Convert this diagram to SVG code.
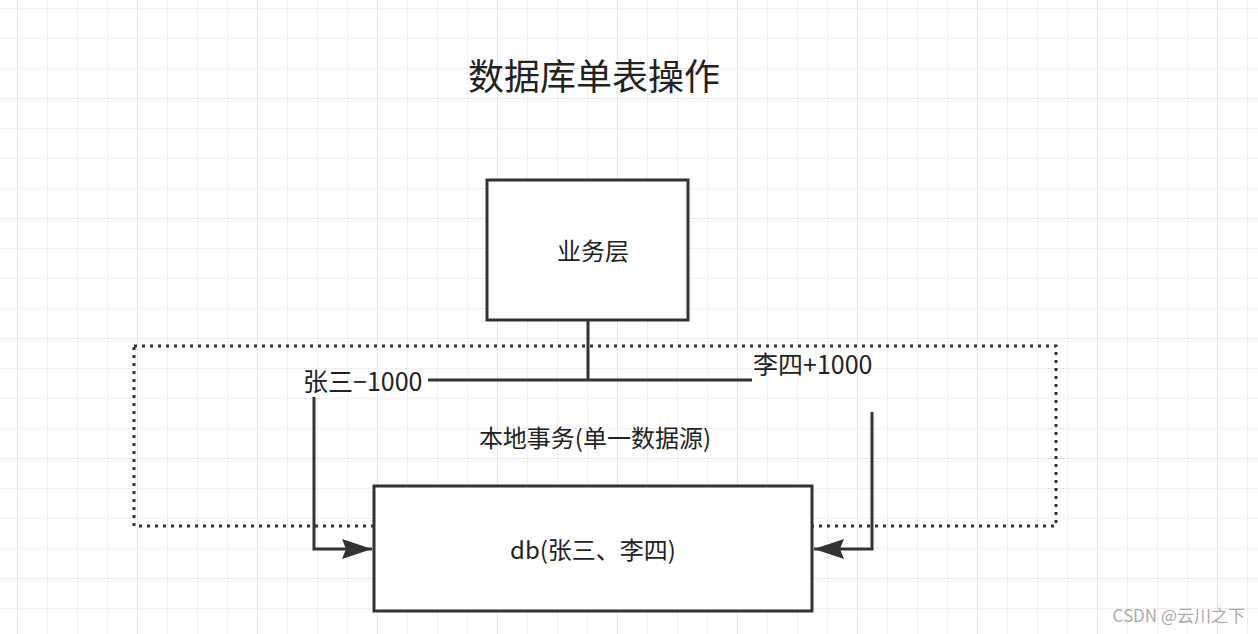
<svg xmlns="http://www.w3.org/2000/svg" width="1258" height="634" viewBox="0 0 1258 634">
<defs>
<pattern id="g" x="17" y="8" width="30" height="30" patternUnits="userSpaceOnUse"><path d="M0 0V30M0 0H30" stroke="#efefef" stroke-width="2" fill="none"/></pattern>
<pattern id="G" x="17" y="98" width="120" height="120" patternUnits="userSpaceOnUse"><path d="M0 0V120M0 0H120" stroke="#e6e6e6" stroke-width="2" fill="none"/></pattern>
<marker id="a" markerWidth="30" markerHeight="20" refX="30" refY="10" orient="auto" markerUnits="userSpaceOnUse" viewBox="0 0 30 20"><path d="M0 0L30 10L0 20L4 10Z" fill="#333"/></marker>
</defs>
<style>
text{font-family:"Noto Sans CJK SC","Noto Sans",sans-serif;fill:#222}
.b{fill:#fff;stroke:#333;stroke-width:3}
.l{fill:none;stroke:#333;stroke-width:3}
</style>
<rect width="1258" height="634" fill="#fff"/>
<rect width="1258" height="634" fill="url(#g)"/>
<rect width="1258" height="634" fill="url(#G)"/>
<text x="594" y="90" font-size="36" text-anchor="middle">数据库单表操作</text>
<rect x="134" y="346" width="922" height="180" fill="none" stroke="#333" stroke-width="3" stroke-dasharray="3 5"/>
<g id="n1"><rect class="b" x="487" y="180" width="201" height="140"/><text x="593" y="260" font-size="24" text-anchor="middle">业务层</text></g>
<g id="n2"><rect class="b" x="374" y="486" width="438" height="125"/><text x="593" y="559" font-size="24" text-anchor="middle">db(张三、李四)</text></g>
<text x="595" y="447" font-size="24" text-anchor="middle">本地事务(单一数据源)</text>
<text x="303" y="391" font-size="25">张三−1000</text>
<text x="753" y="374" font-size="25">李四+1000</text>
<g id="edges">
<path class="l" d="M588 320V380M428 380H752"/>
<path class="l" d="M314 397V549H372" marker-end="url(#a)"/>
<path class="l" d="M872 412V549H814" marker-end="url(#a)"/>
</g>
<text x="1245" y="622" font-size="17" text-anchor="end" style="fill:#aaa">CSDN @云川之下</text>
</svg>
